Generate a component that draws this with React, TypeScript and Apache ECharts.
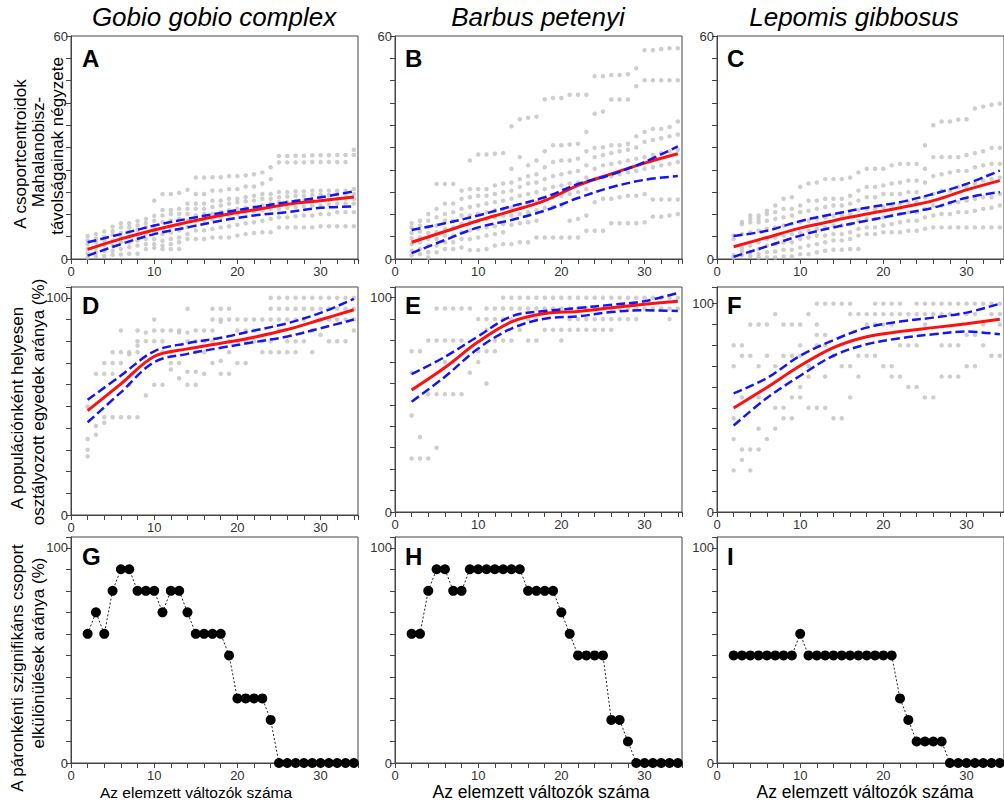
import React, { useEffect, useRef } from 'react';
import * as echarts from 'echarts';

// ---------------- DATA ----------------
const X0 = 2; // first x value of every per-x list
const fitX = [2, 6, 10, 14, 18, 22, 26, 30, 34];

const speciesTitles = ['Gobio gobio complex', 'Barbus petenyi', 'Lepomis gibbosus'];
const panelLetters = ['A', 'B', 'C', 'D', 'E', 'F', 'G', 'H', 'I'];
const xTitle = 'Az elemzett változók száma';
const yTitleRow1 = ['A csoportcentroidok', 'Mahalanobisz-', 'távolságainak négyzete'];
const yTitleRow2 = ['A populációnként helyesen', 'osztályozott egyedek aránya (%)'];
const yTitleRow3 = ['A páronkénti szignifikáns csoport', 'elkülönülések aránya (%)'];

// Panel A: squared Mahalanobis distances (grey dots), one list per x = 2..34
const scatterA: number[][] = [
  [6.2, 5, 4, 2.7, 1.5, 0.4],
  [6.7, 5.5, 4.5, 3, 1.8, 0.8],
  [7.4, 6, 5, 3.6, 2.2, 0.8],
  [8.7, 7.5, 6.5, 5, 3.6, 2.2, 1.1],
  [9.6, 8.5, 7, 5.8, 4.5, 2.7, 1.2],
  [9.6, 8.6, 7.4, 6, 4.5, 3.2, 1.4],
  [10.2, 9, 7.8, 6.3, 5, 3.6, 1.4],
  [10.8, 9.7, 8.5, 6.8, 5.4, 4, 2.7],
  [15.7, 11.6, 10.3, 8.6, 7.2, 5.4, 4, 3],
  [17.5, 13.2, 11.7, 9.9, 8.1, 6.7, 4.9, 3.6, 2.7],
  [17.5, 13.2, 12.1, 10.3, 8.6, 7.2, 5.4, 4, 2.7],
  [17.8, 13.5, 12.1, 10.8, 9.2, 7.7, 5.8, 4.5, 2.7],
  [18.6, 14.9, 13.5, 12.1, 10.3, 8.6, 6.7, 5.4],
  [21.9, 17.5, 14.9, 13.5, 11.7, 10.3, 7.7, 5.4],
  [21.9, 17.5, 14.9, 13.5, 12.1, 10.3, 7.7, 5.4],
  [22, 18.4, 15.7, 14, 12.2, 10.8, 8.1, 5.8],
  [22, 18.4, 15.7, 14.4, 12.6, 11.2, 8.5, 5.8],
  [22.3, 18.8, 16.2, 14.9, 13.1, 11.7, 8.8, 5.8],
  [22.3, 18.8, 16.2, 15.3, 13.5, 12.1, 9.2, 6.3],
  [22.5, 19.5, 16.6, 15.5, 13.8, 12.6, 9.6, 6.7],
  [22.8, 19.5, 17, 15.7, 14, 12.8, 9.9, 7],
  [23.3, 20.3, 17.5, 16.2, 14.4, 13.1, 10.3, 7.2],
  [24.7, 21.5, 17.5, 16.2, 14.9, 13.5, 10.8, 7.2],
  [27.7, 26, 18, 16.6, 15.3, 13.5, 11.2, 8.5],
  [27.7, 26, 18, 16.8, 15.3, 13.8, 11.2, 8.5],
  [27.8, 26, 18.2, 17, 15.5, 14, 11.5, 8.5],
  [27.8, 26, 18.2, 17, 15.7, 14.2, 11.7, 8.5],
  [27.9, 26.1, 18.4, 17.2, 15.7, 14.4, 11.7, 8.5],
  [27.9, 26.1, 18.4, 17.3, 16, 14.4, 12.1, 8.8],
  [27.9, 26.1, 18.4, 17.3, 16, 14.7, 12.1, 8.8],
  [28, 26.1, 18.4, 17.5, 16.2, 14.9, 12.6, 8.8],
  [28, 26.1, 18.4, 17.5, 16.2, 14.9, 12.6, 8.8],
  [29.4, 28, 18.8, 17.5, 16.2, 14.9, 12.6, 8.8],
];
const fitRedA = [2.6, 5.4, 7.8, 9.9, 11.7, 13.2, 14.7, 15.7, 16.7];
const fitUpA = [4.5, 6.7, 9.0, 10.8, 12.4, 13.9, 15.3, 16.6, 18.2];
const fitLoA = [0.9, 4.0, 6.7, 8.5, 10.3, 11.7, 12.6, 13.8, 14.1];

// Panel B
const scatterB: number[][] = [
  [9.6, 8.5, 7, 5.6, 4, 2.2, 1],
  [10.3, 9, 7.4, 5.8, 4.5, 2.7, 1.3],
  [12.1, 10.3, 8.6, 7, 5.4, 3.6, 1.8, 0.4],
  [20.2, 13.5, 11.2, 9, 7.2, 5.4, 3.6, 1.8],
  [20.2, 14.9, 12.1, 10.3, 8.1, 6.3, 4.5, 2.7],
  [20.2, 14.9, 12.6, 10.3, 8.5, 6.3, 4.5, 2.7],
  [18.4, 16.2, 13.5, 11.7, 9.4, 7.2, 5.4, 3.1],
  [26.5, 18.8, 16.6, 14, 11.7, 9.9, 7.7, 5.4, 2.4],
  [28.1, 18.8, 17, 14.4, 12.1, 10.3, 8.1, 5.8, 2.4],
  [28.1, 18.8, 17, 14.9, 12.6, 10.8, 8.5, 6.3, 2.7],
  [28.3, 19.8, 17.5, 15.3, 13.1, 11.2, 8.8, 6.7, 3.6],
  [28.5, 20.3, 18, 15.7, 13.5, 11.7, 9.4, 7.2, 4],
  [35.7, 24.3, 20.6, 18.4, 16.2, 13.8, 11.7, 9.2, 4],
  [37.6, 27.4, 21.5, 19.4, 17, 14.4, 12.1, 9.6, 4.5],
  [38, 25.2, 22.3, 20.3, 17.5, 14.9, 12.6, 9.9, 4.5],
  [38.3, 26.5, 22.8, 20.6, 18, 15.3, 13.1, 10.3, 5.8],
  [43, 29, 24.7, 21.5, 18.8, 16.2, 13.8, 5.8],
  [43.3, 30.6, 26.1, 22.3, 19.4, 16.6, 14, 5.8],
  [43.3, 30.6, 26.5, 22.8, 19.8, 17, 14.4, 5.8],
  [44.2, 30.8, 26.5, 23.3, 20.3, 17.5, 10.3, 5.8],
  [44.2, 31, 27, 23.7, 20.6, 18, 10.8, 5.8],
  [44.2, 34.2, 29, 25.2, 21.9, 18.8, 11.7, 7.6],
  [49.2, 39.1, 29.9, 27.4, 24.3, 21.5, 15.3, 7.6],
  [49.2, 39.7, 30.1, 28, 25.2, 22, 16.2, 7.6],
  [49.5, 42.9, 30.6, 28.5, 25.6, 22.3, 16.2, 9.6],
  [49.5, 42.9, 30.6, 29, 26, 22.8, 16.6, 9.6],
  [49.7, 42.9, 31, 29.4, 26.5, 23.3, 17, 9.6],
  [51.3, 46.5, 33, 30, 27, 23.7, 17, 9.6],
  [56.2, 48.1, 34.2, 31.5, 27.4, 24.3, 17.5, 9.9],
  [56.2, 48.1, 35, 32, 28, 24.7, 16, 11.4],
  [56.5, 48.1, 35, 32.5, 28.5, 25.2, 16, 11.4],
  [56.7, 48.1, 35.5, 33, 29, 25.6, 16, 11.7],
  [56.7, 48.1, 37, 33.5, 29.4, 26.1, 16, 12.1],
];
const fitRedB = [4.5, 7.4, 10.3, 12.9, 15.7, 19.8, 22.9, 25.8, 28.3];
const fitUpB = [7.8, 9.6, 11.7, 14.2, 16.6, 20.2, 22.7, 26.1, 30.3];
const fitLoB = [1.6, 5.1, 8.5, 10.5, 13.0, 16.4, 19.3, 21.3, 22.3];

// Panel C
const scatterC: number[][] = [
  [6.3, 5.4, 1, 0.4],
  [10, 9.4, 6.7, 3, 2, 1],
  [11.7, 10.8, 9.9, 7.2, 3.6, 1.8, 0.8],
  [11.7, 10.8, 9.9, 7.6, 4.5, 2.7, 1.3, 0.4],
  [13, 12.1, 10.3, 8.1, 5.4, 3.6, 1.8, 0.4],
  [14.4, 12.6, 10.8, 8.5, 5.8, 4, 2, 0.4],
  [16.2, 13.5, 11.2, 9, 6.3, 4.5, 2.5, 0.7],
  [16.6, 13.5, 11.7, 9.4, 6.7, 4.5, 2.5, 0.7],
  [19.4, 14.4, 12.6, 9.9, 7.2, 5.4, 3.1, 1.3],
  [20.3, 15.7, 13, 10.3, 7.6, 5.8, 3.6, 1.3],
  [20.6, 15.7, 13.5, 10.8, 8.1, 6.3, 4, 1.8],
  [21.5, 16.2, 14, 11.2, 8.5, 6.3, 4.5, 2.2],
  [21.5, 16.2, 14.4, 11.7, 9, 6.7, 5, 2.5],
  [21.5, 16.2, 14.4, 11.7, 9, 6.7, 5, 2.5],
  [21.9, 17, 14.9, 12.1, 9.4, 7.2, 5.4, 2.7],
  [23.3, 18.4, 15.7, 13.1, 10.3, 8.1, 6.3, 2.7],
  [24.3, 19.4, 16.6, 13.5, 10.8, 8.5, 6.7],
  [24.3, 19.4, 16.6, 13.5, 10.8, 8.5, 6.7],
  [24.3, 19.8, 17.5, 14, 11.2, 9, 7.2],
  [25.2, 20.3, 17.5, 14.4, 11.7, 9.4, 7.2],
  [25.6, 20.6, 17.5, 14.9, 12.1, 9.9, 7.2],
  [25.6, 21.1, 18, 15.3, 12.6, 10.3, 7.6],
  [25.6, 21.1, 18, 15.3, 12.6, 10.3, 7.6],
  [30.6, 24.3, 20.6, 16.6, 13.5, 11.2, 8.1],
  [36, 27.4, 22.3, 17.5, 14.4, 11.7, 8.5],
  [37, 27.4, 22.8, 18.4, 14.4, 12.1, 8.5],
  [37, 27.4, 23.3, 18.4, 14.9, 12.1, 8.5],
  [37.5, 27.4, 23.7, 19.4, 15.3, 12.6, 8.5],
  [37.6, 28, 23.7, 19.4, 15.7, 12.6, 8.5],
  [40.5, 28.5, 24.7, 20.3, 16.2, 13, 8.5],
  [41, 29, 25.2, 21.1, 16.6, 13.5, 8.5],
  [41.5, 29.9, 25.6, 21.5, 16.6, 13.8, 8.5],
  [41.8, 29.9, 25.6, 21.9, 17.5, 14.4, 8.5],
];
const fitRedC = [3.3, 5.8, 8.3, 10.3, 12.1, 13.8, 15.7, 18.6, 21.1];
const fitUpC = [6.2, 7.6, 10.2, 12.1, 13.8, 15.3, 17.5, 20.2, 23.8];
const fitLoC = [0.6, 3.4, 6.3, 8.5, 10.3, 12.1, 13.8, 16.5, 18.0];

// Panel D: correctly classified individuals per population (%)
const scatterD: number[][] = [
  [50, 35, 30, 27],
  [65, 41, 37],
  [70, 65, 45, 42.5],
  [75, 70, 65, 45],
  [85, 75, 70, 45],
  [75, 74, 60, 45],
  [85, 80, 78, 75, 45],
  [84, 80, 55],
  [90, 85, 80, 60],
  [85, 80, 75, 60],
  [85, 75, 70, 67],
  [85, 84, 70, 63],
  [95, 84, 80, 66, 60],
  [85, 80, 75, 66, 60],
  [85, 80, 75, 65],
  [95, 90, 85, 80, 70],
  [95, 90, 89, 71, 65],
  [95, 90, 80, 75, 65],
  [90, 85, 80, 70],
  [90, 85, 80, 70],
  [90, 85, 80],
  [90, 80, 75],
  [100, 95, 90, 80, 75],
  [100, 95, 90, 85, 75],
  [100, 95, 90, 80, 75],
  [100, 95, 90, 80, 75],
  [100, 95, 90, 80],
  [100, 95, 85, 75],
  [100, 95, 90, 83],
  [100, 95, 90, 80],
  [100, 95, 90, 80],
  [100, 95, 90, 80],
  [100, 95, 90, 85],
];
const fitRedD = [48.1, 60.4, 73.0, 76.5, 79.1, 81.9, 85.4, 89.9, 94.5];
const fitUpD = [53.1, 64.2, 75.4, 79.1, 81.6, 84.9, 88.3, 93.1, 99.5];
const fitLoD = [42.7, 56.5, 70.4, 74.2, 77.0, 79.6, 82.2, 86.0, 90.0];

// Panel E
const scatterE: number[][] = [
  [75, 65, 45, 25],
  [75, 35, 25],
  [80, 55, 25],
  [95, 80, 55, 30],
  [95, 80, 70, 55],
  [95, 80, 70, 55],
  [95, 80, 55],
  [95, 65],
  [90, 75, 70],
  [95, 90, 85, 75, 60],
  [95, 90, 80, 75],
  [100, 95, 90, 80],
  [100, 95, 90, 80],
  [100, 95, 85],
  [100, 95, 90, 80],
  [100, 95, 90, 80],
  [100, 95, 85],
  [100, 95, 85],
  [100, 95, 85, 80],
  [100, 95, 90, 85],
  [100, 95, 90, 85],
  [100, 95, 90, 85],
  [100, 95, 90, 85],
  [100, 95, 90, 85],
  [100, 95, 90, 85],
  [100, 95, 90],
  [100, 95, 90],
  [100, 95, 90],
  [100, 95],
  [100, 95],
  [100, 95],
  [100, 95, 90],
  [100, 95],
];
const fitRedE = [56.9, 67.4, 79.4, 88.7, 92.6, 93.6, 95.3, 96.9, 98.4];
const fitUpE = [64.3, 72.4, 82.0, 91.3, 93.8, 95.2, 96.7, 98.4, 102.2];
const fitLoE = [51.5, 63.1, 76.3, 85.6, 90.2, 91.3, 93.3, 94.1, 93.8];

// Panel F
const scatterF: number[][] = [
  [80, 70, 45, 35, 20],
  [80, 75, 55, 30, 25],
  [90, 75, 30, 20],
  [90, 70, 55, 40, 30],
  [90, 75, 35],
  [95, 70, 50, 40],
  [90, 75, 50, 45],
  [90, 75, 55, 45],
  [90, 80, 75, 60, 55],
  [95, 70, 65, 50],
  [100, 90, 85, 80, 50],
  [100, 85, 80, 65, 50],
  [100, 75, 45],
  [100, 70, 45],
  [100, 95, 70, 55],
  [95, 75, 65],
  [95, 90, 75],
  [100, 95, 90, 75],
  [100, 95, 90, 70],
  [100, 95, 90, 70, 65],
  [100, 95, 80, 65],
  [95, 80, 60],
  [100, 95, 80, 60],
  [100, 95, 90, 55],
  [100, 95, 55],
  [100, 95, 80, 65],
  [100, 95, 80, 65],
  [100, 95, 80, 65],
  [100, 95, 85, 70],
  [100, 95, 85, 70],
  [100, 90, 80],
  [100, 95, 75],
  [100, 95, 90, 75],
];
const fitRedF = [49.9, 59.8, 70.2, 78.9, 84.1, 86.6, 88.5, 90.4, 92.5];
const fitUpF = [56.9, 64.3, 75.0, 82.5, 88.5, 91.4, 93.3, 95.7, 100.0];
const fitLoF = [41.5, 54.7, 65.4, 75.0, 80.5, 83.4, 85.3, 86.6, 85.3];

// Panels G-I: share of significant pairwise group separations (%), x = 2..34
const sepG = [60, 70, 60, 80, 90, 90, 80, 80, 80, 70, 80, 80, 70, 60, 60, 60, 60, 50, 30, 30, 30, 30, 20, 0, 0, 0, 0, 0, 0, 0, 0, 0, 0];
const sepH = [60, 60, 80, 90, 90, 80, 80, 90, 90, 90, 90, 90, 90, 90, 80, 80, 80, 80, 70, 60, 50, 50, 50, 50, 20, 20, 10, 0, 0, 0, 0, 0, 0];
const sepI = [50, 50, 50, 50, 50, 50, 50, 50, 60, 50, 50, 50, 50, 50, 50, 50, 50, 50, 50, 50, 30, 20, 10, 10, 10, 10, 0, 0, 0, 0, 0, 0, 0];

// ---------------- LAYOUT ----------------
const FONT = '"Liberation Sans", Arial, Helvetica, sans-serif';
const grids = [
  { left: 71, top: 36, width: 287, height: 223 },
  { left: 395, top: 36, width: 287, height: 223 },
  { left: 717, top: 36, width: 287, height: 223 },
  { left: 71, top: 287, width: 287, height: 228 },
  { left: 395, top: 287, width: 287, height: 225 },
  { left: 717, top: 287, width: 287, height: 225 },
  { left: 71, top: 537, width: 287, height: 226 },
  { left: 395, top: 537, width: 287, height: 226 },
  { left: 717, top: 537, width: 287, height: 226 },
];
const yMax = [60, 60, 60, 105, 105, 108, 105, 105, 105];
const yStep = [6, 6, 6, 10, 10, 10, 10, 10, 10];
const yShown = [60, 60, 60, 100, 100, 100, 100, 100, 100];

const toPairs = (cols: number[][]) => {
  const out: number[][] = [];
  cols.forEach((ys, i) => ys.forEach((y) => out.push([i + X0, y])));
  return out;
};
const toLine = (vals: number[]) => vals.map((v, i) => [i + X0, v]);
const toFit = (vals: number[]) => vals.map((v, i) => [fitX[i], v]);

function buildOption(): any {
  const scatters = [scatterA, scatterB, scatterC, scatterD, scatterE, scatterF];
  const reds = [fitRedA, fitRedB, fitRedC, fitRedD, fitRedE, fitRedF];
  const ups = [fitUpA, fitUpB, fitUpC, fitUpD, fitUpE, fitUpF];
  const los = [fitLoA, fitLoB, fitLoC, fitLoD, fitLoE, fitLoF];
  const seps = [sepG, sepH, sepI];

  const axisColor = '#444';
  const xAxes = grids.map((_, i) => ({
    type: 'value',
    gridIndex: i,
    min: 0,
    max: 34.5,
    interval: 2,
    axisLine: { show: true, onZero: false, lineStyle: { color: axisColor, width: 1 } },
    axisTick: { show: true, inside: false, length: 5, lineStyle: { color: axisColor, width: 1 } },
    axisLabel: {
      show: true,
      margin: 6,
      color: '#333',
      fontSize: 13,
      fontFamily: FONT,
      showMinLabel: true,
      showMaxLabel: true,
      formatter: (v: number) => (Math.abs(v % 10) < 1e-9 ? String(v) : ''),
    },
    splitLine: { show: false },
  }));
  const yAxes = grids.map((_, i) => ({
    type: 'value',
    gridIndex: i,
    min: 0,
    max: yMax[i],
    interval: yStep[i],
    axisLine: { show: true, onZero: false, lineStyle: { color: axisColor, width: 1 } },
    axisTick: { show: true, inside: false, length: 5, lineStyle: { color: axisColor, width: 1 } },
    axisLabel: {
      show: true,
      margin: 3,
      color: '#333',
      fontSize: 13,
      fontFamily: FONT,
      showMinLabel: true,
      showMaxLabel: true,
      formatter: (v: number) => (v === 0 || v === yShown[i] ? String(v) : ''),
    },
    splitLine: { show: false },
  }));

  const series: any[] = [];
  for (let i = 0; i < 6; i++) {
    series.push({
      type: 'scatter', xAxisIndex: i, yAxisIndex: i, data: toPairs(scatters[i]),
      symbol: 'circle', symbolSize: 4.5, itemStyle: { color: '#c2c2c2' }, silent: true, z: 1,
    });
    series.push({
      type: 'line', xAxisIndex: i, yAxisIndex: i, data: toFit(reds[i]), smooth: 0.35,
      symbol: 'none', lineStyle: { color: '#ff1010', width: 3 }, silent: true, z: 3,
    });
    [ups[i], los[i]].forEach((d) =>
      series.push({
        type: 'line', xAxisIndex: i, yAxisIndex: i, data: toFit(d), smooth: 0.35,
        symbol: 'none', lineStyle: { color: '#1515f0', width: 2.5, type: [9, 4] }, silent: true, z: 4,
      })
    );
  }
  for (let k = 0; k < 3; k++) {
    const i = 6 + k;
    series.push({
      type: 'line', xAxisIndex: i, yAxisIndex: i, data: toLine(seps[k]),
      symbol: 'circle', symbolSize: 10, showSymbol: true, clip: false,
      itemStyle: { color: '#000', borderWidth: 0 },
      lineStyle: { color: '#222', width: 1, type: [2, 2] }, silent: true, z: 3,
    });
  }

  const txt = (x: number, y: number, text: string, o: any) => ({
    type: 'text', x, y, silent: true, z: 100,
    style: {
      text, fill: '#000', fontFamily: FONT,
      ...o,
    },
  });

  const graphics: any[] = [];
  const titleX = [214, 538, 854];
  speciesTitles.forEach((t, k) =>
    graphics.push(txt(titleX[k], 17, t, {
      fontSize: 26, fontStyle: 'italic', align: 'center', verticalAlign: 'middle',
      textAlign: 'center', textVerticalAlign: 'middle',
    }))
  );
  const letterX = [82, 405, 727];
  const letterY = [46, 293, 544];
  panelLetters.forEach((l, i) =>
    graphics.push(txt(letterX[i % 3], letterY[Math.floor(i / 3)], l, {
      fontSize: 24, fontWeight: 'bold', align: 'left', verticalAlign: 'top',
      textAlign: 'left', textVerticalAlign: 'top',
    }))
  );
  const yTitles: [string[], number[][]][] = [
    [yTitleRow1, [[20, 154], [38, 152], [57, 146]]],
    [yTitleRow2, [[17, 408], [38, 402]]],
    [yTitleRow3, [[17, 668], [38, 653]]],
  ];
  yTitles.forEach(([lines, pos]) =>
    lines.forEach((line, j) =>
      graphics.push({
        ...txt(pos[j][0], pos[j][1], line, {
          fontSize: 17, align: 'center', verticalAlign: 'middle',
          textAlign: 'center', textVerticalAlign: 'middle',
        }),
        rotation: Math.PI / 2,
      })
    )
  );
  const xTitleX = [196, 541, 865];
  const xTitleSize = [15.5, 17.5, 17.5];
  xTitleX.forEach((x, k) =>
    graphics.push(txt(x, 792, xTitle, {
      fontSize: xTitleSize[k], align: 'center', verticalAlign: 'middle',
      textAlign: 'center', textVerticalAlign: 'middle',
    }))
  );

  return {
    animation: false,
    backgroundColor: '#fff',
    grid: grids.map((g) => ({
      ...g, show: true, borderColor: axisColor, borderWidth: 1,
      backgroundColor: 'transparent', containLabel: false, outerBoundsMode: 'none',
    })),
    xAxis: xAxes,
    yAxis: yAxes,
    series,
    graphic: { elements: graphics },
  };
}

export default function App() {
  const ref = useRef<HTMLDivElement>(null);
  useEffect(() => {
    if (!ref.current) return;
    const chart = echarts.init(ref.current, null, { renderer: 'svg' });
    chart.setOption(buildOption());
    return () => chart.dispose();
  }, []);
  return (
    <div
      ref={ref}
      style={{ position: 'fixed', left: 0, top: 0, width: 1004, height: 806, background: '#fff' }}
    />
  );
}
